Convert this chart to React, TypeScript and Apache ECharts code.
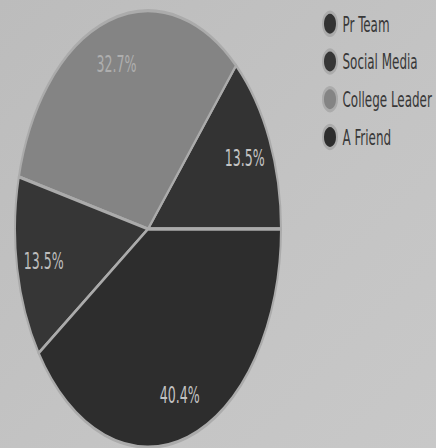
import React, { useEffect, useRef } from "react";
import * as echarts from "echarts";

const categories = ["Pr Team", "College Leader", "Social Media", "A Friend"];
const legendOrder = ["Pr Team", "Social Media", "College Leader", "A Friend"];
const values = [13.5, 32.7, 13.5, 40.4];
const sliceColors = ["#333333", "#848484", "#363636", "#2d2d2d"];
const labelColors = ["#c4c4c4", "#aeaeae", "#bdbdbd", "#c2c2c2"];

const STRETCH = 1.64;
const W = 436;
const H = 448;

export default function App() {
  const ref = useRef<HTMLDivElement>(null);
  useEffect(() => {
    if (!ref.current) return;
    const chart = echarts.init(ref.current, undefined, { renderer: "svg" });
    const font = "'Liberation Sans Narrow', 'DejaVu Sans Condensed', sans-serif";
    const data = categories.map((name, i) => ({
      name,
      value: values[i],
      itemStyle: { color: sliceColors[i] },
    }));
    const labelData = categories.map((name, i) => ({
      name,
      value: values[i],
      label: { color: labelColors[i] },
    }));
    chart.setOption({
      animation: false,
      backgroundColor: "transparent",
      legend: {
        data: legendOrder,
        orient: "vertical",
        left: 317,
        top: 1,
        icon: "circle",
        itemWidth: 15,
        itemHeight: 14,
        itemGap: 6,
        textStyle: { fontFamily: font, fontSize: 13.3, lineHeight: 17, color: "#383838" },
      },
      series: [
        {
          type: "pie",
          center: [148, 229 / STRETCH],
          radius: [0, 133],
          startAngle: 0,
          clockwise: false,
          label: { show: false },
          labelLine: { show: false },
          itemStyle: { borderColor: "#ababab", borderWidth: 2 },
          emphasis: { disabled: true },
          data,
        },
        {
          type: "pie",
          center: [148, 229 / STRETCH],
          radius: [73, 133],
          startAngle: 0,
          clockwise: false,
          silent: true,
          itemStyle: { color: "rgba(0,0,0,0)" },
          label: {
            show: true,
            position: "inside",
            formatter: "{c}%",
            fontFamily: font,
            fontSize: 14,
          },
          labelLine: { show: false },
          emphasis: { disabled: true },
          data: labelData,
        },
      ],
    });
    return () => chart.dispose();
  }, []);
  return (
    <div
      style={{
        position: "fixed",
        left: 0,
        top: 0,
        width: W,
        height: H,
        overflow: "hidden",
        background: "linear-gradient(135deg, #bcbcbc 0%, #c4c4c4 60%, #c8c8c8 100%)",
      }}
    >
      <div
        ref={ref}
        style={{
          width: W,
          height: Math.ceil(H / STRETCH),
          transform: `scaleY(${STRETCH})`,
          transformOrigin: "0 0",
        }}
      />
    </div>
  );
}
